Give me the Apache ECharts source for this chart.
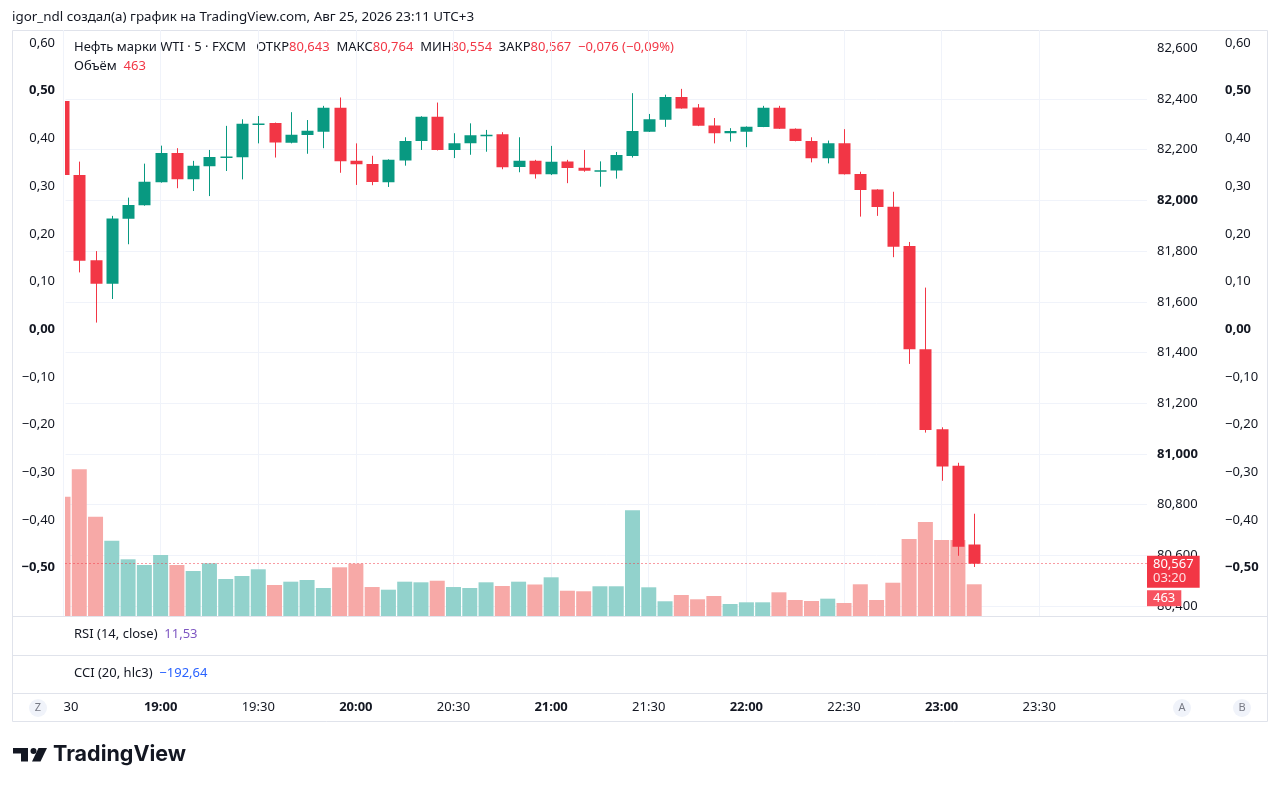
<!DOCTYPE html>
<html>
<head>
<meta charset="utf-8">
<title>WTI 5</title>
<script src="https://cdn.jsdelivr.net/npm/echarts@6/dist/echarts.min.js"></script>
<style>
html, body { margin: 0; padding: 0; background: #fff; }
#main { width: 1280px; height: 790px; }
</style>
</head>
<body>
<div id="main"></div>
<script>
// свечи 5 мин, цены
var times = ['18:30','18:35','18:40','18:45','18:50','18:55','19:00','19:05','19:10','19:15',
             '19:20','19:25','19:30','19:35','19:40','19:45','19:50','19:55','20:00','20:05',
             '20:10','20:15','20:20','20:25','20:30','20:35','20:40','20:45','20:50','20:55',
             '21:00','21:05','21:10','21:15','21:20','21:25','21:30','21:35','21:40','21:45',
             '21:50','21:55','22:00','22:05','22:10','22:15','22:20','22:25','22:30','22:35',
             '22:40','22:45','22:50','22:55','23:00','23:05','23:10'];
var opens  = [82392,82100,81764,81671,81928,81981,82072,82187,82083,82135,
              82171,82170,82300,82305,82227,82258,82271,82365,82156,82144,
              82072,82157,82234,82330,82199,82225,82258,82261,82132,82156,
              82103,82153,82129,82118,82118,82175,82271,82318,82408,82366,
              82295,82265,82271,82290,82365,82283,82234,82166,82225,82104,
              82043,81975,81820,81413,81097,80953,80643];
var closes = [82100,81762,81671,81929,81982,82074,82187,82083,82137,82171,
              82173,82302,82303,82228,82259,82275,82365,82154,82143,82073,
              82160,82234,82330,82199,82225,82257,82259,82131,82156,82103,
              82152,82128,82117,82119,82179,82274,82320,82408,82363,82294,
              82265,82274,82291,82365,82283,82234,82166,82225,82103,82041,
              81974,81817,81413,81094,80950,80634,80567];
var lows   = [82090,81716,81518,81611,81827,81979,82070,82048,82037,82017,
              82116,82083,82225,82169,82225,82184,82206,82109,82061,82060,
              82053,82137,82199,82197,82167,82180,82192,82123,82111,82086,
              82100,82068,82113,82054,82086,82169,82270,82290,82362,82293,
              82225,82232,82210,82289,82282,82233,82150,82146,82102,81936,
              81939,81776,81355,81084,80894,80598,80554];
var highs  = [82400,82153,81800,81939,82011,82145,82216,82206,82156,82199,
              82294,82320,82333,82307,82348,82317,82373,82406,82225,82176,
              82162,82249,82332,82386,82265,82304,82278,82269,82249,82160,
              82215,82160,82199,82154,82191,82423,82341,82417,82440,82380,
              82325,82285,82292,82373,82373,82284,82249,82236,82281,82113,
              82044,82034,81836,81656,81105,80965,80764];
var volumes = [1742,2142,1450,1099,828,745,891,745,657,769,
               540,584,682,453,501,526,409,711,764,423,
               384,501,492,515,423,409,492,438,501,460,
               565,369,361,434,434,1543,419,215,307,244,
               292,175,200,200,346,234,219,253,190,463,
               234,486,1124,1372,1110,1110,463];
// шкалы
var priceTicks = { min: 80400, max: 82600, step: 200 };
var pctTicks = { min: -0.5, max: 0.6, step: 0.1 };

var FONT = '"Noto Sans", Roboto, sans-serif';
var TXT = '#131722';
var UP = '#089981', DOWN = '#f23645';
var UP_VOL = '#92d2cc', DOWN_VOL = '#f7a9a7';
var GRID = '#f0f3fa';
var BORDER = '#e0e3eb';

function toMin(t) {
    var p = t.split(':');
    return (+p[0] - 18) * 60 + (+p[1]);
}
function fmtPrice(v) {
    var s = Math.round(v).toString();
    return s.slice(0, -3) + ',' + s.slice(-3);
}
function fmtPct(v) {
    var r = Math.round(v * 100);
    var s = (Math.abs(r) / 100).toFixed(2).replace('.', ',');
    return r < 0 ? '\u2212' + s : s;
}

var candleData = times.map(function (t, i) {
    return [toMin(t), opens[i], closes[i], lows[i], highs[i]];
});
var volData = times.map(function (t, i) {
    return [toMin(t), volumes[i], closes[i] >= opens[i] ? 1 : -1];
});
var last = times.length - 1;

// свеча: тело + фитиль, обрезается по сетке
function renderCandle(params, api) {
    var x = api.value(0);
    var o = api.value(1), c = api.value(2), l = api.value(3), h = api.value(4);
    var pO = api.coord([x, o]), pC = api.coord([x, c]);
    var pL = api.coord([x, l]), pH = api.coord([x, h]);
    var w = 12;
    var color = c >= o ? UP : DOWN;
    var cx = Math.round(pO[0]) + 0.5;
    var top = Math.min(pO[1], pC[1]), bot = Math.max(pO[1], pC[1]);
    return {
        type: 'group',
        children: [
            { type: 'line', shape: { x1: cx, y1: pH[1], x2: cx, y2: pL[1] },
              style: { stroke: color, lineWidth: 1 } },
            { type: 'rect', shape: { x: cx - w / 2, y: top, width: w, height: Math.max(bot - top, 1.5) },
              style: { fill: color } }
        ]
    };
}
function renderVolume(params, api) {
    var x = api.value(0), v = api.value(1);
    var pTop = api.coord([x, v]), pBot = api.coord([x, 0]);
    var w = 15;
    return {
        type: 'rect',
        shape: { x: pTop[0] - w / 2, y: pTop[1], width: w, height: pBot[1] - pTop[1] },
        style: { fill: api.value(2) > 0 ? UP_VOL : DOWN_VOL }
    };
}

// 3.254 px на минуту; видимая область свечей начинается чуть правее 18:30
var X_MIN = 30, X_MAX = 363.1, X_MIN_PANE = 30.77;
var boldRich = { b: { fontWeight: 'bold', fontSize: 13, fontFamily: FONT, color: TXT } };

var myChart = echarts.init(document.getElementById('main'));

var option = {
    animation: false,
    backgroundColor: '#fff',
    textStyle: { fontFamily: FONT },
    grid: [
        { left: 65.5, right: 133, top: 48.3, bottom: 184 },  // цены
        { left: 65.5, right: 133, top: 30, bottom: 174 },    // объём
        { left: 63, right: 133, top: 43, bottom: 222.3 },    // проценты
        { left: 63, right: 143.5, top: 30, bottom: 174 }     // вертикальная сетка и время
    ],
    xAxis: [
        { type: 'value', gridIndex: 0, min: X_MIN_PANE, max: X_MAX, show: false },
        { type: 'value', gridIndex: 1, min: X_MIN_PANE, max: X_MAX, show: false },
        { type: 'value', gridIndex: 2, min: X_MIN, max: X_MAX, show: false },
        {
            type: 'value', gridIndex: 3, min: X_MIN, max: 359.9, interval: 30,
            offset: 77,
            axisLine: { show: false },
            axisTick: { show: false },
            splitLine: { show: true, showMaxLine: false, lineStyle: { color: GRID } },
            axisLabel: {
                margin: 8, fontSize: 13, color: TXT, fontFamily: FONT,
                showMaxLabel: false,
                formatter: function (v) {
                    var r = Math.round(v);
                    if (Math.abs(v - r) > 1e-6 || r % 30 !== 0) return '';
                    if (r === 30) return '{f|30}';
                    var h = 18 + Math.floor(r / 60), m = r % 60;
                    var s = h + ':' + (m < 10 ? '0' : '') + m;
                    return m === 0 ? '{b|' + s + '}' : s;
                },
                rich: {
                    b: { fontWeight: 'bold', fontSize: 13, fontFamily: FONT, color: TXT },
                    f: { fontSize: 13, fontFamily: FONT, color: TXT, padding: [0, 0, 0, 16] }
                }
            }
        }
    ],
    yAxis: [
        {
            type: 'value', gridIndex: 0, position: 'right',
            min: priceTicks.min, max: priceTicks.max, interval: priceTicks.step,
            axisLine: { show: false }, axisTick: { show: false },
            splitLine: { show: true, showMaxLine: false, lineStyle: { color: GRID } },
            axisLabel: {
                margin: 10, fontSize: 13, color: TXT, fontFamily: FONT,
                formatter: function (v) {
                    var s = fmtPrice(v);
                    return Math.round(v) % 1000 === 0 ? '{b|' + s + '}' : s;
                },
                rich: boldRich
            }
        },
        { type: 'value', gridIndex: 1, min: 0, max: 8556, show: false },
        {
            type: 'value', gridIndex: 2, position: 'left',
            min: pctTicks.min, max: pctTicks.max, interval: pctTicks.step,
            axisLine: { show: false }, axisTick: { show: false }, splitLine: { show: false },
            axisLabel: {
                margin: 8, fontSize: 13, color: TXT, fontFamily: FONT,
                formatter: function (v) {
                    var s = fmtPct(v);
                    return Math.round(v * 100) % 50 === 0 ? '{b|' + s + '}' : s;
                },
                rich: boldRich
            }
        },
        {
            type: 'value', gridIndex: 2, position: 'right', offset: 70,
            min: pctTicks.min, max: pctTicks.max, interval: pctTicks.step,
            axisLine: { show: false }, axisTick: { show: false }, splitLine: { show: false },
            axisLabel: {
                margin: 8, fontSize: 13, color: TXT, fontFamily: FONT,
                formatter: function (v) {
                    var s = fmtPct(v);
                    return Math.round(v * 100) % 50 === 0 ? '{b|' + s + '}' : s;
                },
                rich: boldRich
            }
        },
        { type: 'value', gridIndex: 3, show: false }
    ],
    series: [
        {
            name: 'Объём',
            type: 'custom',
            xAxisIndex: 1, yAxisIndex: 1,
            clip: true,
            renderItem: renderVolume,
            encode: { x: 0, y: 1 },
            data: volData,
            markLine: {
                silent: true, animation: false,
                symbol: ['none', 'none'],
                lineStyle: { color: 'rgba(0,0,0,0)', width: 1 },
                data: [{ yAxis: volumes[last] }],
                label: {
                    show: true, position: 'end', distance: 0, offset: [0, 14],
                    formatter: String(volumes[last]),
                    backgroundColor: '#f7525f', color: '#fff',
                    fontSize: 13, fontFamily: FONT, padding: [2, 6, 1, 6]
                }
            }
        },
        {
            name: 'WTI',
            type: 'custom',
            xAxisIndex: 0, yAxisIndex: 0,
            clip: true,
            renderItem: renderCandle,
            encode: { x: 0, y: [1, 2, 3, 4] },
            data: candleData,
            markLine: {
                silent: true, animation: false,
                symbol: ['none', 'none'],
                lineStyle: { type: [1, 3], color: DOWN, width: 1 },
                data: [{ yAxis: closes[last] }],
                label: {
                    show: true, position: 'end', distance: 0, offset: [0, 8],
                    formatter: function () { return '{p|' + fmtPrice(closes[last]) + '}\n{t|03:20}'; },
                    backgroundColor: DOWN, padding: [2, 6, 2, 6],
                    rich: {
                        p: { color: '#fff', fontSize: 13, lineHeight: 14, fontFamily: FONT },
                        t: { color: '#ffe1e3', fontSize: 13, lineHeight: 14, fontFamily: FONT }
                    }
                }
            }
        }
    ],
    graphic: {
        elements: [
            // рамка и разделители панелей
            { type: 'rect', silent: true, shape: { x: 12.5, y: 30.5, width: 1255, height: 691 },
              style: { fill: 'none', stroke: BORDER, lineWidth: 1 } },
            { type: 'line', silent: true, shape: { x1: 12, y1: 616.5, x2: 1268, y2: 616.5 }, style: { stroke: BORDER } },
            { type: 'line', silent: true, shape: { x1: 12, y1: 655.5, x2: 1268, y2: 655.5 }, style: { stroke: BORDER } },
            { type: 'line', silent: true, shape: { x1: 12, y1: 693.5, x2: 1268, y2: 693.5 }, style: { stroke: BORDER } },
            // шапка
            { type: 'text', x: 12, y: 17, silent: true,
              style: { text: 'igor_ndl создал(а) график на TradingView.com, Авг 25, 2026 23:11 UTC+3',
                       fill: TXT, fontSize: 13.4, fontFamily: FONT, verticalAlign: 'middle' } },
            { type: 'text', x: 74, y: 47, silent: true,
              style: {
                  text: '{k|Нефть марки WTI · 5 · FXCM   ОТКР}{r|80,643}{k|  МАКС}{r|80,764}{k|  МИН}{r|80,554}{k|  ЗАКР}{r|80,567}{r|  \u22120,076 (\u22120,09%)}',
                  verticalAlign: 'middle',
                  rich: {
                      k: { fill: TXT, fontSize: 13, fontFamily: FONT },
                      r: { fill: DOWN, fontSize: 13, fontFamily: FONT }
                  }
              } },
            { type: 'text', x: 74, y: 66, silent: true,
              style: {
                  text: '{k|Объём  }{r|463}', verticalAlign: 'middle',
                  rich: {
                      k: { fill: TXT, fontSize: 13, fontFamily: FONT },
                      r: { fill: DOWN, fontSize: 13, fontFamily: FONT }
                  }
              } },
            { type: 'text', x: 74, y: 634, silent: true,
              style: {
                  text: '{k|RSI (14, close)  }{v|11,53}', verticalAlign: 'middle',
                  rich: {
                      k: { fill: TXT, fontSize: 13, fontFamily: FONT },
                      v: { fill: '#7e57c2', fontSize: 13, fontFamily: FONT }
                  }
              } },
            { type: 'text', x: 74, y: 673, silent: true,
              style: {
                  text: '{k|CCI (20, hlc3)  }{v|\u2212192,64}', verticalAlign: 'middle',
                  rich: {
                      k: { fill: TXT, fontSize: 13, fontFamily: FONT },
                      v: { fill: '#2962ff', fontSize: 13, fontFamily: FONT }
                  }
              } },
            // кнопки шкалы
            { type: 'circle', silent: true, shape: { cx: 38, cy: 708, r: 9 }, style: { fill: '#f0f3fa' } },
            { type: 'text', x: 38, y: 708, silent: true,
              style: { text: 'Z', fill: '#787b86', fontSize: 11, fontFamily: FONT, align: 'center', verticalAlign: 'middle' } },
            { type: 'circle', silent: true, shape: { cx: 1182, cy: 708, r: 9 }, style: { fill: '#f0f3fa' } },
            { type: 'text', x: 1182, y: 708, silent: true,
              style: { text: 'A', fill: '#787b86', fontSize: 11, fontFamily: FONT, align: 'center', verticalAlign: 'middle' } },
            { type: 'circle', silent: true, shape: { cx: 1242, cy: 708, r: 9 }, style: { fill: '#f0f3fa' } },
            { type: 'text', x: 1242, y: 708, silent: true,
              style: { text: 'B', fill: '#787b86', fontSize: 11, fontFamily: FONT, align: 'center', verticalAlign: 'middle' } },
            // логотип
            { type: 'rect', silent: true, shape: { x: 13, y: 748, width: 15, height: 5.5 }, style: { fill: TXT } },
            { type: 'rect', silent: true, shape: { x: 21, y: 748, width: 7, height: 13.5 }, style: { fill: TXT } },
            { type: 'circle', silent: true, shape: { cx: 33.5, cy: 751, r: 3 }, style: { fill: TXT } },
            { type: 'polygon', silent: true, shape: { points: [[38.5, 748], [47, 748], [40.5, 761.5], [32, 761.5]] }, style: { fill: TXT } },
            { type: 'text', x: 53, y: 755, silent: true,
              style: { text: 'TradingView', fill: TXT, fontSize: 21.5, fontWeight: 'bold', fontFamily: 'Inter, "Noto Sans", sans-serif', verticalAlign: 'middle' } }
        ]
    }
};

myChart.setOption(option);
</script>
</body>
</html>
